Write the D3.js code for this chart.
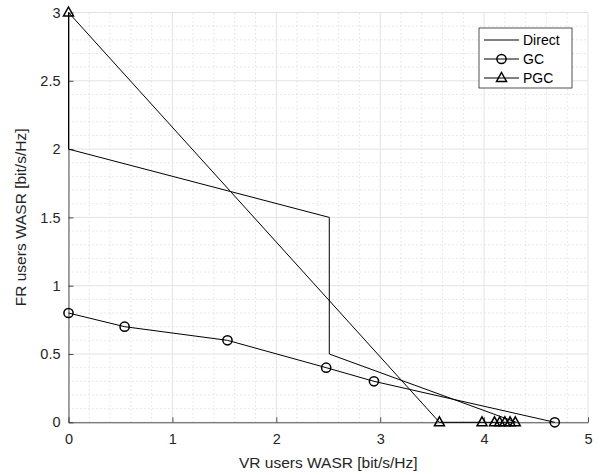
<!DOCTYPE html>
<html>
<head>
<meta charset="utf-8">
<script src="https://cdn.jsdelivr.net/npm/d3@7"></script>
<style>
    body { margin: 0; background: #fff; }
    text { font-family: "Liberation Sans", Arial, sans-serif; }
</style>
</head>
<body>
<script>
"use strict";
var svg_width = 600;
var svg_height = 475;
var margin = {left: 68.5, right: 12, top: 12.5, bottom: 52.7};

// ---series
var direct_x = [0, 0, 2.51, 2.51, 4.31];
var direct_y = [3, 2, 1.5, 0.5, 0];
var gc_x = [0, 0.54, 1.53, 2.48, 2.94, 4.68];
var gc_y = [0.8, 0.7, 0.6, 0.4, 0.3, 0];
var pgc_x = [0, 3.57, 3.98, 4.1, 4.15, 4.2, 4.25, 4.3];
var pgc_y = [3, 0, 0, 0, 0, 0, 0, 0];

var x_ticks = [0, 1, 2, 3, 4, 5];
var y_ticks = [0, 0.5, 1, 1.5, 2, 2.5, 3];
var x_label = "VR users WASR [bit/s/Hz]";
var y_label = "FR users WASR [bit/s/Hz]";
var legend_names = ["Direct", "GC", "PGC"];

var axis_color = "#262626";

var svg = d3.select("body")
    .append("svg")
    .attr("width", svg_width)
    .attr("height", svg_height);

var xscale = d3.scaleLinear()
    .domain([0, 5])
    .range([margin.left, svg_width - margin.right]);
var yscale = d3.scaleLinear()
    .domain([0, 3])
    .range([svg_height - margin.bottom, margin.top]);

// ---minor grid (dotted), 5 divisions per major step
var x_minor = d3.range(0, 5.0001, 0.2).filter(function(d)
{
    return Math.abs(d - Math.round(d)) > 1e-6;
});
var y_minor = d3.range(0, 3.0001, 0.1).filter(function(d)
{
    return Math.abs(d * 2 - Math.round(d * 2)) > 1e-6;
});
var grid = svg.append("g").attr("class", "grid");
grid.selectAll(".xminor")
    .data(x_minor)
    .enter()
    .append("line")
    .attr("x1", function(d) { return xscale(d); })
    .attr("x2", function(d) { return xscale(d); })
    .attr("y1", yscale(0))
    .attr("y2", yscale(3))
    .style("stroke", "#c8c8c8")
    .style("stroke-width", 0.8)
    .style("stroke-dasharray", "1,3");
grid.selectAll(".yminor")
    .data(y_minor)
    .enter()
    .append("line")
    .attr("x1", xscale(0))
    .attr("x2", xscale(5))
    .attr("y1", function(d) { return yscale(d); })
    .attr("y2", function(d) { return yscale(d); })
    .style("stroke", "#c8c8c8")
    .style("stroke-width", 0.8)
    .style("stroke-dasharray", "1,3");

// ---major grid
grid.selectAll(".xmajor")
    .data(x_ticks)
    .enter()
    .append("line")
    .attr("x1", function(d) { return xscale(d); })
    .attr("x2", function(d) { return xscale(d); })
    .attr("y1", yscale(0))
    .attr("y2", yscale(3))
    .style("stroke", "#e3e3e3")
    .style("stroke-width", 1);
grid.selectAll(".ymajor")
    .data(y_ticks)
    .enter()
    .append("line")
    .attr("x1", xscale(0))
    .attr("x2", xscale(5))
    .attr("y1", function(d) { return yscale(d); })
    .attr("y2", function(d) { return yscale(d); })
    .style("stroke", "#e3e3e3")
    .style("stroke-width", 1);

// ---axes, ticks inward like matlab
var xaxis = d3.axisBottom(xscale)
    .tickValues(x_ticks)
    .tickSizeInner(-5)
    .tickSizeOuter(0)
    .tickPadding(11)
    .tickFormat(d3.format("~g"));
var yaxis = d3.axisLeft(yscale)
    .tickValues(y_ticks)
    .tickSizeInner(-5)
    .tickSizeOuter(0)
    .tickPadding(8)
    .tickFormat(d3.format("~g"));

var gx = svg.append("g")
    .attr("transform", "translate(0," + yscale(0) + ")")
    .call(xaxis);
var gy = svg.append("g")
    .attr("transform", "translate(" + xscale(0) + ",0)")
    .call(yaxis);
[gx, gy].forEach(function(g)
{
    g.select(".domain").style("stroke", axis_color).style("stroke-width", 0.8);
    g.selectAll(".tick line").style("stroke", axis_color).style("stroke-width", 0.8);
    g.selectAll(".tick text")
        .style("fill", axis_color)
        .style("font-size", "14.5px")
        .style("font-family", "Liberation Sans, Arial, sans-serif");
});

svg.append("text")
    .attr("x", (xscale(0) + xscale(5)) / 2)
    .attr("y", 468)
    .attr("text-anchor", "middle")
    .style("fill", axis_color)
    .style("font-size", "15.5px")
    .text(x_label);
svg.append("text")
    .attr("transform", "translate(26," + ((yscale(0) + yscale(3)) / 2) + ") rotate(-90)")
    .attr("text-anchor", "middle")
    .style("fill", axis_color)
    .style("font-size", "15.5px")
    .text(y_label);

// ---series
var line = d3.line()
    .x(function(d) { return xscale(d[0]); })
    .y(function(d) { return yscale(d[1]); });

var series = [
    {name: "Direct", pts: d3.zip(direct_x, direct_y), marker: "none"},
    {name: "GC", pts: d3.zip(gc_x, gc_y), marker: "circle"},
    {name: "PGC", pts: d3.zip(pgc_x, pgc_y), marker: "triangle"}
];

var tri_path = "M0,-5.5L5,3.5L-5,3.5Z";

function drawMarker(g, kind, cx, cy)
{
    if(kind == "circle")
    {
        g.append("circle")
            .attr("cx", cx)
            .attr("cy", cy)
            .attr("r", 4.6)
            .style("fill", "none")
            .style("stroke", "#000")
            .style("stroke-width", 1.5);
    }
    else if(kind == "triangle")
    {
        g.append("path")
            .attr("d", tri_path)
            .attr("transform", "translate(" + cx + "," + cy + ")")
            .style("fill", "none")
            .style("stroke", "#000")
            .style("stroke-width", 1.5);
    }
}

var plot = svg.append("g");
series.forEach(function(s)
{
    plot.append("path")
        .datum(s.pts)
        .attr("d", line)
        .style("fill", "none")
        .style("stroke", "#000")
        .style("stroke-width", 1);
    s.pts.forEach(function(p)
    {
        drawMarker(plot, s.marker, xscale(p[0]), yscale(p[1]));
    });
});

// ---legend
var legend_x = 479;
var legend_y = 28;
var legend = svg.append("g");
legend.append("rect")
    .attr("x", legend_x)
    .attr("y", legend_y)
    .attr("width", 93)
    .attr("height", 60)
    .style("fill", "#fff")
    .style("stroke", axis_color)
    .style("stroke-width", 0.8);
legend_names.forEach(function(name, i)
{
    var ly = legend_y + 12 + i * 19;
    legend.append("line")
        .attr("x1", legend_x + 5)
        .attr("x2", legend_x + 40)
        .attr("y1", ly)
        .attr("y2", ly)
        .style("stroke", "#000")
        .style("stroke-width", 1);
    drawMarker(legend, series[i].marker, legend_x + 22.5, ly);
    legend.append("text")
        .attr("x", legend_x + 44)
        .attr("y", ly + 5)
        .style("fill", "#000")
        .style("font-size", "14px")
        .text(name);
});
</script>
</body>
</html>
